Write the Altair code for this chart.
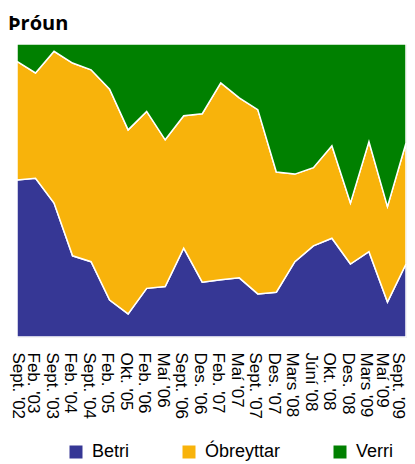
import altair as alt
import pandas as pd

periods = ["Sept. '02", "Feb. '03", "Sept. '03", "Feb. '04", "Sept. '04", "Feb. '05",
           "Okt. '05", "Feb. '06", "Maí '06", "Sept. '06", "Des. '06", "Feb. '07",
           "Maí '07", "Sept. '07", "Des. '07", "Mars '08", "Júní '08", "Okt. '08",
           "Des. '08", "Mars '09", "Maí '09", "Sept. '09"]
betri = [53.6, 54.2, 45.7, 27.7, 25.7, 12.6, 7.9, 16.6, 17.2, 30.3, 18.7,
         19.5, 20.2, 14.7, 15.3, 25.7, 31.1, 33.7, 24.9, 29.1, 11.9, 24.9]
obreyttar = [40.5, 35.9, 51.8, 65.8, 65.5, 72.0, 62.8, 60.4, 50.1, 45.2, 57.5,
             67.2, 61.4, 62.9, 41.0, 29.9, 26.7, 31.6, 20.8, 37.6, 32.6, 41.3]
verri = [5.9, 9.9, 2.5, 6.5, 8.8, 15.4, 29.3, 23.0, 32.7, 24.5, 23.8,
         13.3, 18.4, 22.4, 43.7, 44.4, 42.2, 34.7, 54.3, 33.3, 55.5, 33.8]

series = ["Betri", "Óbreyttar", "Verri"]
colors = ["#363795", "#f8b30b", "#008000"]

rows = []
for name, vals, o in [("Betri", betri, 0), ("Óbreyttar", obreyttar, 1), ("Verri", verri, 2)]:
    for p, v in zip(periods, vals):
        rows.append({"period": p, "value": v, "series": name, "ord": o})
df = pd.DataFrame(rows)

chart = alt.Chart(df).mark_area(stroke="white", strokeWidth=1.5).encode(
    x=alt.X("period:O", sort=periods, scale=alt.Scale(type="point", padding=0),
            axis=alt.Axis(title=None, labelAngle=90, labelFont="Liberation Sans",
                          labelFontSize=17, labelColor="#000", ticks=False,
                          domain=False, labelPadding=15, labelOverlap=False,
                          labelOffset=alt.ExprRef("datum.index < 0.01 ? 0 : (datum.index > 0.99 ? -9 : (datum.index > 0.94 ? -6 : -3))"))),
    y=alt.Y("value:Q", stack="normalize", axis=None),
    color=alt.Color("series:N", scale=alt.Scale(domain=series, range=colors),
                    legend=alt.Legend(title=None, orient="none", direction="horizontal",
                                      legendX=50, legendY=399, symbolType="square",
                                      symbolSize=169, symbolStrokeWidth=0,
                                      labelFont="Liberation Sans", labelFontSize=18,
                                      labelColor="#000", columnPadding=50,
                                      labelOffset=7, padding=0)),
    order=alt.Order("ord:Q"),
).properties(
    width=389, height=293,
    title=alt.TitleParams("Þróun", anchor="start", frame="group", dx=-9, offset=7,
                          font="Open Sans", fontSize=20, fontWeight="bold", color="#000"),
    autosize=alt.AutoSizeParams(type="none"),
    padding={"left": 9, "top": 36, "right": 1, "bottom": 124},
).configure_view(stroke="#d0d0d0", strokeWidth=1)

chart.save("out.html", embed_options={"renderer": "svg", "actions": False})
